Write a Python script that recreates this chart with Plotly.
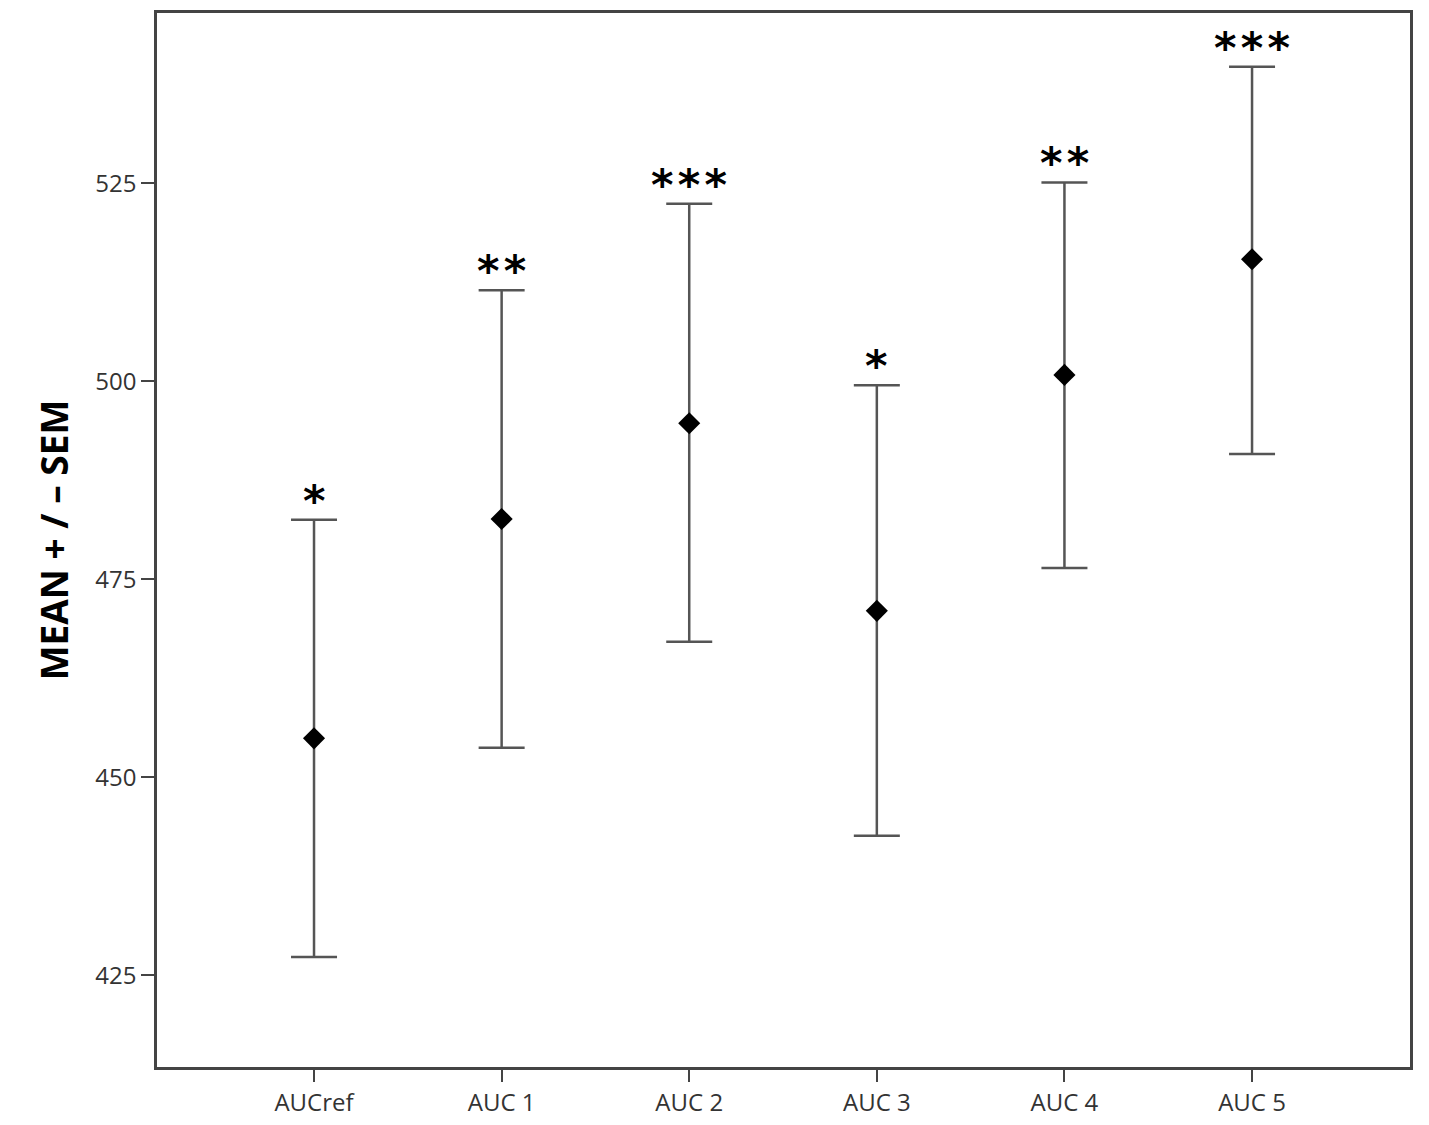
import plotly.graph_objects as go

categories = ["AUCref", "AUC 1", "AUC 2", "AUC 3", "AUC 4", "AUC 5"]
means = [454.9, 482.6, 494.7, 471.0, 500.8, 515.4]
upper = [482.5, 511.5, 522.4, 499.5, 525.1, 539.7]
lower = [427.3, 453.7, 467.1, 442.6, 476.4, 490.8]
stars = ["*", "**", "***", "*", "**", "***"]

xs = list(range(len(categories)))
fig = go.Figure()
fig.add_trace(go.Scatter(
    x=xs, y=means, mode="markers",
    marker=dict(symbol="diamond", size=17, color="black"),
    error_y=dict(type="data", symmetric=False,
                 array=[u - m for u, m in zip(upper, means)],
                 arrayminus=[m - l for m, l in zip(means, lower)],
                 color="#555555", thickness=2.5, width=23),
    showlegend=False,
))
for x, u, s in zip(xs, upper, stars):
    fig.add_annotation(x=x, y=u, text="<b>" + "\u200a".join(s) + "</b>", showarrow=False,
                       yanchor="bottom", yshift=-8,
                       font=dict(size=43, color="black", family="DejaVu Sans"))

fig.update_layout(
    width=1421, height=1117,
    margin=dict(l=149, r=19, t=2, b=58),
    plot_bgcolor="white", paper_bgcolor="white",
    font=dict(family="Open Sans", color="#333333"),
)
fig.update_xaxes(
    range=[-0.837, 5.842], tickmode="array", tickvals=xs, ticktext=categories,
    showgrid=False, zeroline=False, showline=True, linecolor="#444444", linewidth=2.5,
    mirror=True, ticks="outside", ticklen=12, tickwidth=2, tickcolor="#444444",
    tickfont=dict(size=24, color="#333333"),
)
fig.update_yaxes(
    range=[413.4, 546.5], tickvals=[425, 450, 475, 500, 525],
    showgrid=False, zeroline=False, showline=True, linecolor="#444444", linewidth=2.5,
    mirror=True, ticks="outside", ticklen=13, tickwidth=2, tickcolor="#444444",
    tickfont=dict(size=24, color="#333333"),
    title=dict(text="<b>MEAN + / \u2013 SEM</b>", font=dict(size=37, color="black"), standoff=16),
)
fig.write_html("out.html")
